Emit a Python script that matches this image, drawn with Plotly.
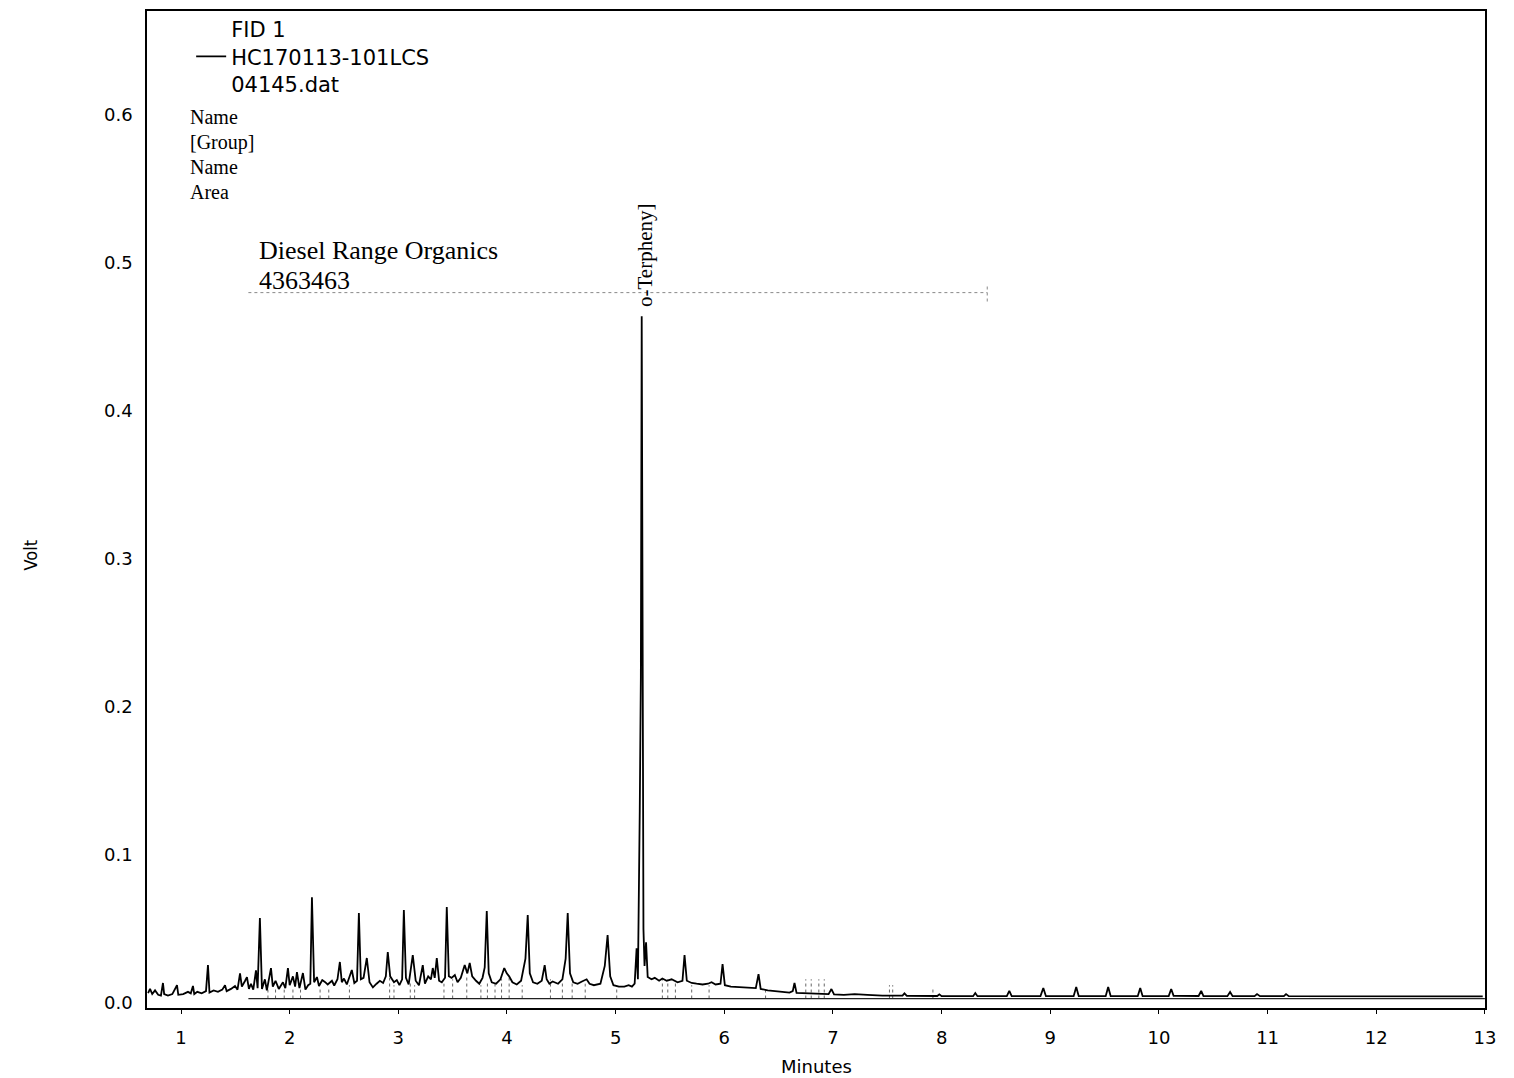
import plotly.graph_objects as go

# chromatogram (minutes, volt)
minutes = [
    0.697, 0.715, 0.735, 0.761, 0.790, 0.815, 0.834, 0.845, 0.880, 0.920,
    0.963, 0.975, 1.020, 1.064, 1.090, 1.110, 1.122, 1.150, 1.190, 1.230,
    1.248, 1.262, 1.300, 1.340, 1.380, 1.405, 1.420, 1.460, 1.497, 1.520,
    1.543, 1.560, 1.590, 1.607, 1.625, 1.644, 1.665, 1.690, 1.705, 1.726,
    1.745, 1.772, 1.790, 1.828, 1.845, 1.870, 1.900, 1.938, 1.960, 1.984,
    2.000, 2.030, 2.050, 2.067, 2.090, 2.122, 2.145, 2.170, 2.190, 2.205,
    2.225, 2.251, 2.270, 2.300, 2.324, 2.350, 2.389, 2.410, 2.440, 2.462,
    2.480, 2.500, 2.526, 2.572, 2.595, 2.620, 2.637, 2.655, 2.680, 2.710,
    2.735, 2.766, 2.800, 2.830, 2.860, 2.885, 2.903, 2.925, 2.960, 2.986,
    3.010, 3.035, 3.051, 3.070, 3.095, 3.133, 3.160, 3.190, 3.225, 3.245,
    3.275, 3.300, 3.317, 3.335, 3.354, 3.375, 3.400, 3.430, 3.446, 3.465,
    3.490, 3.520, 3.545, 3.575, 3.611, 3.635, 3.657, 3.680, 3.715, 3.745,
    3.775, 3.795, 3.814, 3.832, 3.860, 3.900, 3.940, 3.975, 3.998, 4.020,
    4.050, 4.090, 4.130, 4.170, 4.191, 4.210, 4.240, 4.280, 4.320, 4.347,
    4.365, 4.390, 4.420, 4.470, 4.510, 4.540, 4.559, 4.580, 4.610, 4.650,
    4.690, 4.733, 4.760, 4.800, 4.860, 4.900, 4.926, 4.950, 4.980, 5.030,
    5.080, 5.120, 5.150, 5.175, 5.193, 5.205, 5.222, 5.232, 5.240, 5.248,
    5.256, 5.266, 5.280, 5.295, 5.330, 5.360, 5.400, 5.430, 5.470, 5.515,
    5.570, 5.615, 5.634, 5.655, 5.700, 5.745, 5.800, 5.850, 5.883, 5.920,
    5.965, 5.984, 6.005, 6.060, 6.150, 6.205, 6.290, 6.315, 6.335, 6.400,
    6.500, 6.600, 6.630, 6.646, 6.665, 6.750, 6.830, 6.960, 6.986, 7.010,
    7.100, 7.200, 7.317, 7.455, 7.640, 7.658, 7.680, 7.960, 7.979, 8.000,
    8.290, 8.310, 8.330, 8.600, 8.623, 8.645, 8.910, 8.936, 8.960, 9.215,
    9.239, 9.262, 9.510, 9.533, 9.556, 9.805, 9.828, 9.850, 10.090, 10.113,
    10.135, 10.365, 10.389, 10.410, 10.630, 10.655, 10.678, 10.880, 10.903, 10.930,
    11.150, 11.170, 11.195, 12.980,
]
volts = [
    0.0067, 0.0095, 0.0060, 0.0085, 0.0055, 0.0050, 0.0135, 0.0060, 0.0050, 0.0060,
    0.0120, 0.0055, 0.0060, 0.0075, 0.0065, 0.0115, 0.0060, 0.0075, 0.0065, 0.0080,
    0.0256, 0.0070, 0.0085, 0.0075, 0.0090, 0.0120, 0.0080, 0.0095, 0.0115, 0.0090,
    0.0200, 0.0110, 0.0150, 0.0175, 0.0095, 0.0130, 0.0090, 0.0220, 0.0100, 0.0574,
    0.0095, 0.0160, 0.0085, 0.0236, 0.0110, 0.0150, 0.0095, 0.0140, 0.0100, 0.0236,
    0.0120, 0.0180, 0.0110, 0.0209, 0.0100, 0.0202, 0.0090, 0.0120, 0.0130, 0.0715,
    0.0140, 0.0175, 0.0115, 0.0155, 0.0142, 0.0125, 0.0150, 0.0118, 0.0160, 0.0277,
    0.0140, 0.0165, 0.0125, 0.0223, 0.0135, 0.0150, 0.0607, 0.0160, 0.0170, 0.0304,
    0.0140, 0.0105, 0.0130, 0.0150, 0.0135, 0.0180, 0.0344, 0.0180, 0.0140, 0.0155,
    0.0120, 0.0160, 0.0628, 0.0170, 0.0125, 0.0324, 0.0150, 0.0120, 0.0256, 0.0130,
    0.0180, 0.0160, 0.0236, 0.0170, 0.0304, 0.0150, 0.0140, 0.0170, 0.0648, 0.0180,
    0.0170, 0.0189, 0.0140, 0.0170, 0.0256, 0.0200, 0.0270, 0.0180, 0.0150, 0.0130,
    0.0170, 0.0240, 0.0621, 0.0200, 0.0140, 0.0130, 0.0160, 0.0236, 0.0200, 0.0180,
    0.0140, 0.0125, 0.0150, 0.0300, 0.0594, 0.0200, 0.0140, 0.0130, 0.0150, 0.0256,
    0.0160, 0.0130, 0.0145, 0.0130, 0.0160, 0.0300, 0.0607, 0.0200, 0.0140, 0.0130,
    0.0145, 0.0160, 0.0130, 0.0120, 0.0130, 0.0250, 0.0459, 0.0180, 0.0120, 0.0110,
    0.0110, 0.0120, 0.0110, 0.0130, 0.0370, 0.0160, 0.1300, 0.2200, 0.4640, 0.2200,
    0.0500, 0.0250, 0.0410, 0.0175, 0.0160, 0.0170, 0.0150, 0.0165, 0.0150, 0.0160,
    0.0140, 0.0150, 0.0324, 0.0150, 0.0135, 0.0130, 0.0125, 0.0130, 0.0140, 0.0125,
    0.0130, 0.0263, 0.0120, 0.0110, 0.0105, 0.0101, 0.0100, 0.0195, 0.0095, 0.0085,
    0.0075, 0.0070, 0.0080, 0.0135, 0.0068, 0.0065, 0.0060, 0.0060, 0.0094, 0.0058,
    0.0055, 0.0060, 0.0055, 0.0050, 0.0050, 0.0065, 0.0048, 0.0047, 0.0058, 0.0046,
    0.0046, 0.0067, 0.0046, 0.0046, 0.0081, 0.0046, 0.0046, 0.0101, 0.0046, 0.0046,
    0.0108, 0.0046, 0.0046, 0.0108, 0.0046, 0.0046, 0.0101, 0.0046, 0.0046, 0.0094,
    0.0048, 0.0047, 0.0081, 0.0046, 0.0046, 0.0074, 0.0046, 0.0046, 0.0060, 0.0046,
    0.0046, 0.0060, 0.0046, 0.0045,
]

# integration baseline and peak markers
baseline_start = 1.62
baseline_end = 13.0
baseline_volt = 0.0030
mark_minutes = [1.80, 1.87, 1.95, 2.03, 2.10, 2.28, 2.36, 2.55, 2.92, 2.96,
                3.11, 3.15, 3.42, 3.50, 3.63, 3.76, 3.82, 3.89, 3.95, 4.02,
                4.14, 4.40, 4.51, 4.60, 4.72, 5.01, 5.43, 5.48, 5.55, 5.70,
                5.86, 6.38, 6.75, 6.80, 6.87, 6.92, 7.52, 7.55, 7.92]
mark_tops = [0.009, 0.010, 0.009, 0.011, 0.009, 0.010, 0.011, 0.012, 0.017, 0.012,
             0.014, 0.012, 0.013, 0.016, 0.018, 0.012, 0.015, 0.013, 0.016, 0.018,
             0.012, 0.016, 0.014, 0.016, 0.013, 0.010, 0.016, 0.016, 0.014, 0.012,
             0.012, 0.010, 0.016, 0.016, 0.016, 0.016, 0.012, 0.012, 0.010]

# group window "Diesel Range Organics"
group_start = 1.62
group_end = 8.42
group_volt = 0.480
group_area = "4363463"

peak_name = "o-Terpheny]"
peak_time = 5.276

fig = go.Figure()

mx, my = [], []
for t, top in zip(mark_minutes, mark_tops):
    mx += [t, t, None]
    my += [baseline_volt, top, None]
fig.add_trace(go.Scatter(x=mx, y=my, mode='lines', showlegend=False, hoverinfo='skip',
                         line=dict(color='#666666', width=1, dash='dot')))

fig.add_trace(go.Scatter(x=[baseline_start, baseline_end], y=[baseline_volt, baseline_volt],
                         mode='lines', showlegend=False, hoverinfo='skip',
                         line=dict(color='#222222', width=1.2)))

fig.add_trace(go.Scatter(x=[group_start, group_end, None, group_end, group_end],
                         y=[group_volt, group_volt, None, group_volt - 0.006, group_volt + 0.006],
                         mode='lines', showlegend=False, hoverinfo='skip',
                         line=dict(color='#888888', width=1, dash='dot')))

fig.add_trace(go.Scatter(
    x=minutes, y=volts,
    mode='lines',
    name='FID 1<br>HC170113-101LCS<br>04145.dat',
    line=dict(color='black', width=1.8),
))

serif = 'Liberation Serif, Times New Roman, serif'
sans = 'DejaVu Sans, Verdana, sans-serif'

annotations = []
for label, v in zip(['Name', '[Group]', 'Name', 'Area'], [0.5985, 0.5817, 0.5648, 0.5479]):
    annotations.append(dict(x=1.064, y=v, xref='x', yref='y', text=label, showarrow=False,
                            xanchor='left', yanchor='middle',
                            font=dict(family=serif, size=20, color='black')))
annotations.append(dict(x=1.699, y=0.5088, xref='x', yref='y', text='Diesel Range Organics',
                        showarrow=False, xanchor='left', yanchor='middle',
                        font=dict(family=serif, size=26, color='black')))
annotations.append(dict(x=1.699, y=0.4885, xref='x', yref='y', text=group_area,
                        showarrow=False, xanchor='left', yanchor='middle',
                        font=dict(family=serif, size=26, color='black')))
annotations.append(dict(x=peak_time, y=0.469, xref='x', yref='y', text=peak_name,
                        showarrow=False, textangle=-90, xanchor='center', yanchor='bottom',
                        font=dict(family=serif, size=21, color='black')))
annotations.append(dict(x=-0.0874, y=0.454, xref='paper', yref='paper', text='Volt',
                        showarrow=False, textangle=-90, xanchor='center', yanchor='middle',
                        font=dict(family='Liberation Sans Narrow, DejaVu Sans Condensed, sans-serif',
                                  size=18, color='black')))
annotations.append(dict(x=0.5, y=-0.059, xref='paper', yref='paper', text='Minutes',
                        showarrow=False, xanchor='center', yanchor='middle',
                        font=dict(family=sans, size=18, color='black')))

# page body has an 8px margin, so the figure is 8px smaller on each axis
fig.update_layout(
    width=1506,
    height=1070,
    margin=dict(l=139, r=29, t=2, b=70),
    paper_bgcolor='white',
    plot_bgcolor='white',
    showlegend=True,
    legend=dict(
        x=0.033, y=1.001, xanchor='left', yanchor='top',
        bgcolor='rgba(0,0,0,0)', borderwidth=0,
        font=dict(family=sans, size=21, color='black'),
    ),
    xaxis=dict(
        range=[0.687, 13.001],
        tickmode='array',
        tickvals=list(range(1, 14)),
        showgrid=False,
        zeroline=False,
        showline=True,
        mirror=True,
        linecolor='black',
        linewidth=1.5,
        ticks='outside',
        ticklen=4,
        tickcolor='black',
        ticklabelstandoff=9,
        tickfont=dict(family=sans, size=18, color='black'),
    ),
    yaxis=dict(
        range=[-0.0034, 0.6703],
        tickmode='array',
        tickvals=[0.0, 0.1, 0.2, 0.3, 0.4, 0.5, 0.6],
        tickformat='.1f',
        showgrid=False,
        zeroline=False,
        showline=True,
        mirror=True,
        linecolor='black',
        linewidth=1.5,
        ticks='',
        ticklabelstandoff=9,
        tickfont=dict(family=sans, size=18, color='black'),
    ),
    annotations=annotations,
)

fig.write_html("out.html")
